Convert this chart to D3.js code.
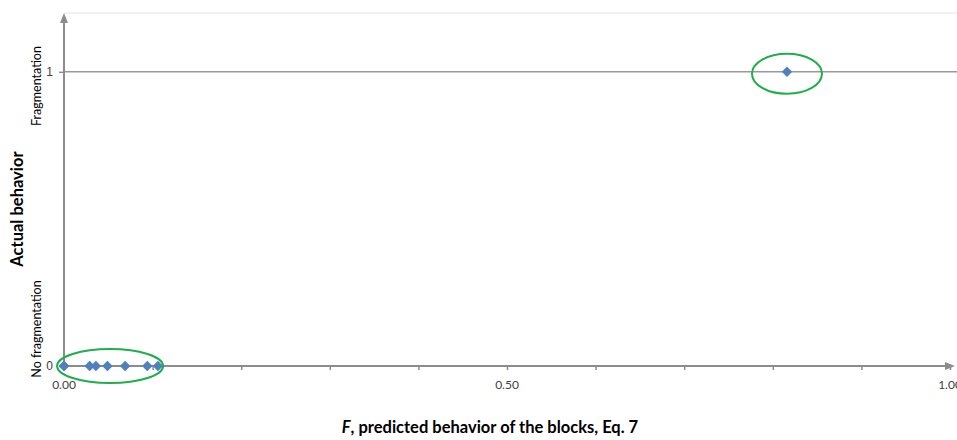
<!DOCTYPE html>
<html>
<head>
<meta charset="utf-8">
<script src="https://cdn.jsdelivr.net/npm/d3@7"></script>
<style>
  body { margin: 0; background: #fff; }
  svg { display: block; font-family: Lato, "Open Sans", sans-serif; }
  .tick-label { font-size: 12px; fill: #404040; }
  .title { font-size: 16.5px; font-weight: bold; fill: #000; }
  .cat { font-size: 12.5px; fill: #000; }
</style>
</head>
<body>
<svg width="957" height="440"></svg>
<script>
// predicted F vs. actual behaviour (0 = no fragmentation, 1 = fragmentation)
var predicted = [0, 0, 0.029, 0.036, 0.049, 0.069, 0.094, 0.106, 0.816];
var actual    = [0, 0, 0, 0, 0, 0, 0, 0, 1];
var xTickLabels = [0, 0.5, 1];
var yTickLabels = [0, 1];
var categories = ["No fragmentation", "Fragmentation"];

var svg = d3.select("svg");

var x = d3.scaleLinear().domain([0, 1]).range([64, 950]);
var y = d3.scaleLinear().domain([0, 1.2]).range([366, 13]);

var grey = "#8c8c8c";

// top border line and gridline at 1
svg.append("line")
    .attr("x1", x(0)).attr("x2", 957)
    .attr("y1", y(1.2)).attr("y2", y(1.2))
    .attr("stroke", "#e4e4e4").attr("stroke-width", 1);
svg.append("line")
    .attr("x1", x(0)).attr("x2", 957)
    .attr("y1", y(1)).attr("y2", y(1))
    .attr("stroke", "#999").attr("stroke-width", 1.5);

// arrow heads
var defs = svg.append("defs");
defs.append("marker")
    .attr("id", "arrow")
    .attr("viewBox", "0 0 10 10")
    .attr("refX", 5).attr("refY", 5)
    .attr("markerWidth", 5).attr("markerHeight", 5)
    .attr("orient", "auto")
    .append("path")
    .attr("d", "M0,1 L10,5 L0,9 z")
    .attr("fill", grey);

// x axis
var xAxis = svg.append("g")
    .attr("transform", "translate(0," + y(0) + ")")
    .call(d3.axisBottom(x).tickValues(d3.range(0, 1.01, 0.1)).tickSize(4).tickFormat(""));
xAxis.select(".domain").remove();
xAxis.selectAll(".tick line").attr("stroke", grey).attr("stroke-width", 1.5);
xAxis.append("line")
    .attr("x1", x(0)).attr("x2", 950)
    .attr("stroke", grey).attr("stroke-width", 2)
    .attr("marker-end", "url(#arrow)");

svg.selectAll(".x-label")
    .data(xTickLabels)
    .enter().append("text")
    .attr("class", "tick-label")
    .attr("x", function (d) { return x(d); })
    .attr("y", 389)
    .attr("text-anchor", "middle")
    .text(d3.format(".2f"));

// y axis
var yAxis = svg.append("g")
    .attr("transform", "translate(" + x(0) + ",0)")
    .call(d3.axisLeft(y).tickValues(yTickLabels).tickSize(5).tickFormat(d3.format("d")));
yAxis.select(".domain").remove();
yAxis.selectAll(".tick line").attr("stroke", grey).attr("stroke-width", 1.5);
yAxis.selectAll(".tick text")
    .attr("class", "tick-label")
    .attr("x", -11)
    .attr("font-family", null).attr("font-size", null);
yAxis.append("line")
    .attr("y1", y(0)).attr("y2", 18)
    .attr("stroke", grey).attr("stroke-width", 2)
    .attr("marker-end", "url(#arrow)");

// category labels
svg.selectAll(".cat")
    .data(categories)
    .enter().append("text")
    .attr("class", "cat")
    .attr("text-anchor", "middle")
    .attr("transform", function (d, i) {
        var cy = i === 0 ? 329 : 86;
        return "translate(41," + cy + ") rotate(-90)";
    })
    .text(function (d) { return d; });

// axis titles
svg.append("text")
    .attr("class", "title")
    .attr("text-anchor", "middle")
    .attr("transform", "translate(23,209) rotate(-90)")
    .text("Actual behavior");

var xt = svg.append("text")
    .attr("class", "title")
    .attr("text-anchor", "middle")
    .attr("x", 490).attr("y", 433);
xt.append("tspan").style("font-style", "italic").text("F");
xt.append("tspan").text(", predicted behavior of the blocks, Eq. 7");

// highlight ellipses
svg.append("ellipse")
    .attr("cx", x(0.052)).attr("cy", y(0))
    .attr("rx", 53).attr("ry", 17)
    .attr("fill", "none").attr("stroke", "#1fae4b").attr("stroke-width", 2);
svg.append("ellipse")
    .attr("cx", x(0.816)).attr("cy", y(1) + 2)
    .attr("rx", 35).attr("ry", 20)
    .attr("fill", "none").attr("stroke", "#1fae4b").attr("stroke-width", 2);

// points (square rotated 45deg = Excel diamond)
var points = predicted.map(function (d, i) { return { f: d, a: actual[i] }; });
svg.selectAll(".pt")
    .data(points)
    .enter().append("path")
    .attr("class", "pt")
    .attr("d", d3.symbol().type(d3.symbolSquare).size(55))
    .attr("transform", function (d) { return "translate(" + x(d.f) + "," + y(d.a) + ") rotate(45)"; })
    .attr("fill", "#4f81bd");
</script>
</body>
</html>
